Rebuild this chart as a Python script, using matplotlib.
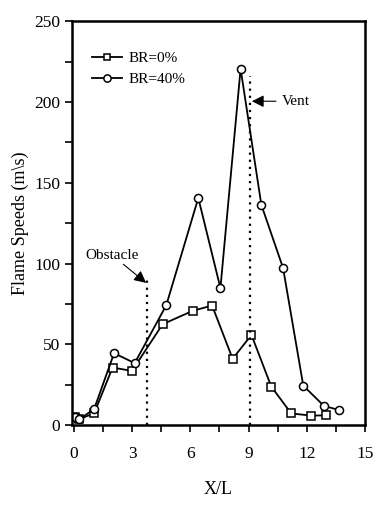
import matplotlib
matplotlib.use("Agg")
import matplotlib.pyplot as plt
from matplotlib.ticker import MultipleLocator

plt.rcParams['font.family'] = ['Liberation Serif', 'DejaVu Serif']

x_br0 = [0.07, 0.27, 1.04, 1.99, 2.99, 4.57, 6.12, 7.12, 8.18, 9.15, 10.17, 11.2, 12.24, 12.97]
y_br0 = [5.2, 3.7, 7.2, 35.6, 33.5, 62.4, 70.7, 74.0, 41.0, 55.8, 23.8, 7.2, 5.8, 6.0]

x_br40 = [0.07, 0.27, 1.04, 2.07, 3.13, 4.76, 6.41, 7.55, 8.59, 9.66, 10.78, 11.82, 12.89, 13.67]
y_br40 = [5.0, 3.5, 9.9, 44.5, 38.3, 74.2, 140.6, 84.8, 220.6, 136.3, 97.2, 24.4, 11.8, 9.3]

labels = ['BR=0%', 'BR=40%']
obstacle_x, obstacle_top = 3.76, 91
vent_x, vent_top = 9.1, 216

fig = plt.figure(figsize=(3.78, 5.13), dpi=100)
ax = fig.add_axes([0.1905, 0.1715, 0.775, 0.787])

ax.plot(x_br0, y_br0, color='black', lw=1.3, marker='s', ms=5.5,
        mfc='white', mec='black', mew=1.1, label=labels[0])
ax.plot(x_br40, y_br40, color='black', lw=1.3, marker='o', ms=5.8,
        mfc='white', mec='black', mew=1.1, label=labels[1])

ax.plot([obstacle_x, obstacle_x], [0, obstacle_top], color='black', lw=1.6, ls=(0, (1, 2.2)))
ax.plot([vent_x, vent_x], [0, vent_top], color='black', lw=1.6, ls=(0, (1, 2.2)))

ax.text(0.6, 105, 'Obstacle', fontsize=11, ha='left', va='center')
ax.annotate('', xy=(3.72, 88), xytext=(2.55, 99.5),
            arrowprops=dict(arrowstyle='-|>', color='black', lw=0.8, mutation_scale=18,
                            shrinkA=0, shrinkB=0))
ax.annotate('Vent', xy=(9.17, 200.5), xytext=(10.7, 200.5), fontsize=11,
            ha='left', va='center',
            arrowprops=dict(arrowstyle='-|>', color='black', lw=0.8, mutation_scale=18,
                            shrinkA=2, shrinkB=0))

ax.set_xlim(-0.1, 15)
ax.set_ylim(0, 250)
ax.xaxis.set_major_locator(MultipleLocator(3))
ax.xaxis.set_minor_locator(MultipleLocator(1.5))
ax.yaxis.set_major_locator(MultipleLocator(50))
ax.yaxis.set_minor_locator(MultipleLocator(25))
ax.tick_params(which='both', direction='out', width=1.2, labelsize=12.5)
ax.tick_params(which='major', length=5)
ax.tick_params(which='minor', length=5)
ax.tick_params(axis='x', pad=10)
for s in ax.spines.values():
    s.set_linewidth(1.8)

ax.set_xlabel('X/L', fontsize=13, labelpad=14)
ax.set_ylabel('Flame Speeds (m\\s)', fontsize=13, labelpad=4)

leg = ax.legend(loc='upper left', bbox_to_anchor=(0.02, 0.96), frameon=False,
                fontsize=11, handlelength=2.0, handletextpad=0.4, labelspacing=0.5,
                markerscale=0.9)

fig.savefig('out.png', dpi=100)
